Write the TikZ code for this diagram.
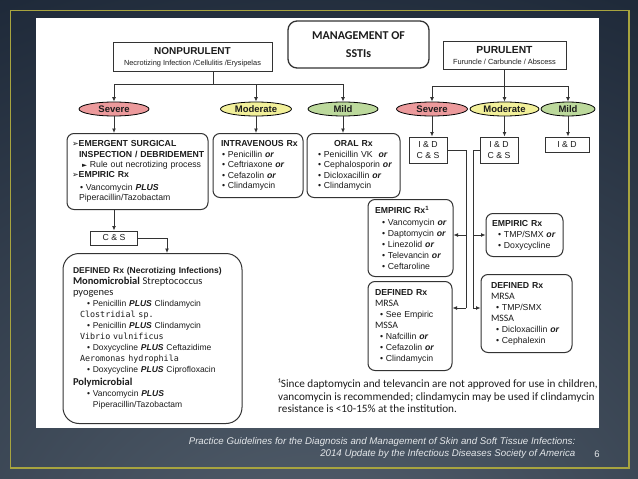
\documentclass[tikz,border=0pt]{standalone}
\usepackage{fontspec}
\setmainfont{Liberation Sans}
\newfontfamily\calib{Carlito}
\newfontfamily\monof{DejaVu Sans Mono}
\newfontfamily\djv{DejaVu Sans}
\usetikzlibrary{shapes.geometric,arrows.meta,calc}
\definecolor{bgdark}{HTML}{1B2636}
\definecolor{bglight}{HTML}{56626F}
\definecolor{olivec}{HTML}{A8A43F}
\definecolor{linec}{HTML}{333333}
\definecolor{txtc}{HTML}{1C1C1C}
\definecolor{sevc}{HTML}{EC9A9C}
\definecolor{modc}{HTML}{F2F09A}
\definecolor{mildc}{HTML}{BCD99C}
\definecolor{capc}{HTML}{E4E7EA}
\newcommand{\bOr}{\textbf{\textit{or}}}
\newcommand{\bPlus}{\textbf{\textit{PLUS}}}
\newcommand{\bul}{\textbullet\ }
\newcommand{\Lbox}[2][0pt]{\mbox{\hspace*{#1}#2}}
\begin{document}
\begin{tikzpicture}[x=1pt,y=-1pt,
  box/.style={draw=linec, line width=1pt, fill=white, inner sep=0pt, text=txtc},
  rbox/.style={box, rounded corners=7pt},
  bodytxt/.style={font=\fontsize{8.7}{10.4}\selectfont, align=left},
  ell/.style={ellipse, draw=black, line width=0.8pt, minimum height=14pt, inner sep=0pt, text=txtc, font=\bfseries\fontsize{9.5}{10}\selectfont},
  ln/.style={draw=linec, line width=1pt},
  arr/.style={ln, -{Latex[length=4.5pt,width=4pt]}},
]
\useasboundingbox (0,0) rectangle (638,479);
% background
\begin{scope}
\clip (0,0) rectangle (638,479);
\fill[bgdark] (0,0) rectangle (638,479);
\shade[inner color=bglight, outer color=bgdark] (-500,-100) rectangle (1138,1300);
\end{scope}
\draw[olivec, line width=1.6pt] (10.5,10.5) rectangle (629,468);
\fill[white] (36,18) rectangle (599,428);

% top boxes
\node[rbox, rounded corners=9pt, line width=1.3pt, minimum width=141pt, minimum height=47pt, align=center,
  font=\calib\bfseries\fontsize{12}{18}\selectfont] (title) at (358.5,44.5) {MANAGEMENT OF\\SSTIs};
\node[box, minimum width=159pt, minimum height=29pt, align=center, font=\fontsize{7.4}{11}\selectfont] (nonpur) at (192.5,57)
  {{\bfseries\fontsize{10}{11}\selectfont NONPURULENT}\\Necrotizing Infection /Cellulitis /Erysipelas};
\node[box, minimum width=123pt, minimum height=28pt, align=center, font=\fontsize{7.4}{11}\selectfont] (pur) at (504.5,55)
  {{\bfseries\fontsize{10.3}{11}\selectfont PURULENT}\\Furuncle / Carbuncle / Abscess};

% severity ellipses
\node[ell, fill=sevc, minimum width=70pt] (sevL) at (114,109) {Severe};
\node[ell, fill=modc, minimum width=71pt] (modL) at (256,109) {Moderate};
\node[ell, fill=mildc, minimum width=70pt] (mildL) at (343,109) {Mild};
\node[ell, fill=sevc, minimum width=71pt] (sevR) at (432,109) {Severe};
\node[ell, fill=modc, minimum width=69pt] (modR) at (504.5,109) {Moderate};
\node[ell, fill=mildc, minimum width=54pt] (mildR) at (568,109) {Mild};

% left boxes
\node[rbox, bodytxt, minimum width=141pt, minimum height=76pt, inner xsep=5pt, text width=131pt] (emer) at (137.5,171.5)
  {\Lbox{{\djv\fontsize{8}{10}\selectfont ➢}\textbf{EMERGENT SURGICAL}}\\
   \Lbox[7pt]{\textbf{INSPECTION / DEBRIDEMENT}}\\
   \Lbox[10pt]{{\djv\fontsize{6.5}{10}\selectfont ►} Rule out necrotizing process}\\
   \Lbox{{\djv\fontsize{8}{10}\selectfont ➢}\textbf{EMPIRIC Rx}}\\[2pt]
   \Lbox[8pt]{\bul Vancomycin \bPlus}\\
   \Lbox[7pt]{Piperacillin/Tazobactam}};
\node[rbox, bodytxt, minimum width=90pt, minimum height=64pt, inner xsep=6pt, text width=78pt] (iv) at (258,165.5)
  {\Lbox[2pt]{\textbf{INTRAVENOUS Rx}}\\
   \Lbox[3pt]{\bul Penicillin \bOr}\\
   \Lbox[3pt]{\bul Ceftriaxone \bOr}\\
   \Lbox[3pt]{\bul Cefazolin \bOr}\\
   \Lbox[3pt]{\bul Clindamycin}};
\node[rbox, bodytxt, minimum width=93pt, minimum height=64pt, inner xsep=6pt, text width=81pt] (oral) at (353.5,165.5)
  {\makebox[81pt]{\textbf{ORAL Rx}}\\
   \Lbox[5pt]{\bul Penicillin VK\ \ \bOr}\\
   \Lbox[5pt]{\bul Cephalosporin \bOr}\\
   \Lbox[5pt]{\bul Dicloxacillin \bOr}\\
   \Lbox[5pt]{\bul Clindamycin}};
\node[box, minimum width=47pt, minimum height=14pt, font=\fontsize{8.7}{10}\selectfont] (csL) at (114,238) {C \& S};
\node[rbox, rounded corners=16pt, bodytxt, font=\fontsize{8.5}{11}\selectfont, minimum width=179pt, minimum height=170pt, inner xsep=10pt, text width=159pt] (defN) at (152.5,338.5)
  {\Lbox{\textbf{DEFINED Rx (Necrotizing Infections)}}\\
   \Lbox{\calib\fontsize{10.5}{11}\selectfont\textbf{Monomicrobial} Streptococcus}\\
   \Lbox{\calib\fontsize{10.5}{11}\selectfont pyogenes}\\
   \Lbox[14pt]{\bul Penicillin \bPlus\ Clindamycin}\\
   \Lbox[7pt]{\monof\fontsize{8.4}{11}\selectfont Clostridial sp.}\\
   \Lbox[14pt]{\bul Penicillin \bPlus\ Clindamycin}\\
   \Lbox[7pt]{\monof\fontsize{8.4}{11}\selectfont Vibrio vulnificus}\\
   \Lbox[14pt]{\bul Doxycycline \bPlus\ Ceftazidime}\\
   \Lbox[7pt]{\monof\fontsize{8.4}{11}\selectfont Aeromonas hydrophila}\\
   \Lbox[14pt]{\bul Doxycycline \bPlus\ Ciprofloxacin}\\[1.5pt]
   \Lbox{\calib\bfseries\fontsize{10.5}{11}\selectfont Polymicrobial}\\
   \Lbox[14pt]{\bul Vancomycin \bPlus}\\
   \Lbox[20pt]{Piperacillin/Tazobactam}};

% right boxes
\node[box, minimum width=38pt, minimum height=26pt, align=center, font=\fontsize{8.7}{11}\selectfont] (id1) at (428,150) {I \& D\\C \& S};
\node[box, minimum width=38pt, minimum height=26pt, align=center, font=\fontsize{8.7}{11}\selectfont] (id2) at (499,150) {I \& D\\C \& S};
\node[box, minimum width=44pt, minimum height=15pt, font=\fontsize{8.7}{11}\selectfont] (id3) at (567,144.5) {I \& D};
\node[rbox, bodytxt, font=\fontsize{8.7}{11.2}\selectfont, minimum width=85pt, minimum height=77pt, inner xsep=6pt, text width=73pt] (empL) at (410.5,238)
  {\Lbox[1pt]{\textbf{EMPIRIC Rx\textsuperscript{1}}}\\
   \Lbox[8pt]{\bul Vancomycin \bOr}\\
   \Lbox[8pt]{\bul Daptomycin \bOr}\\
   \Lbox[8pt]{\bul Linezolid \bOr}\\
   \Lbox[8pt]{\bul Televancin \bOr}\\
   \Lbox[8pt]{\bul Ceftaroline}};
\node[rbox, bodytxt, font=\fontsize{8.7}{11}\selectfont, minimum width=84pt, minimum height=89pt, inner xsep=6pt, text width=72pt] (defL) at (410,326)
  {\Lbox[1pt]{\textbf{DEFINED Rx}}\\
   \Lbox[1pt]{\calib\fontsize{9.8}{11}\selectfont MRSA}\\
   \Lbox[6pt]{\bul See Empiric}\\
   \Lbox[1pt]{\calib\fontsize{9.8}{11}\selectfont MSSA}\\
   \Lbox[6pt]{\bul Nafcillin \bOr}\\
   \Lbox[6pt]{\bul Cefazolin \bOr}\\
   \Lbox[6pt]{\bul Clindamycin}};
\node[rbox, bodytxt, font=\fontsize{8.7}{11}\selectfont, minimum width=77pt, minimum height=43pt, inner xsep=6pt, text width=65pt] (empR) at (524.5,235)
  {\Lbox{\textbf{EMPIRIC Rx}}\\
   \Lbox[6pt]{\bul TMP/SMX \bOr}\\
   \Lbox[6pt]{\bul Doxycycline}};
\node[rbox, bodytxt, font=\fontsize{8.7}{11}\selectfont, minimum width=91pt, minimum height=78pt, inner xsep=10pt, text width=71pt] (defR) at (526.5,313.5)
  {\Lbox{\textbf{DEFINED Rx}}\\
   \Lbox{\calib\fontsize{9.8}{11}\selectfont MRSA}\\
   \Lbox[5pt]{\bul TMP/SMX}\\
   \Lbox{\calib\fontsize{9.8}{11}\selectfont MSSA}\\
   \Lbox[5pt]{\bul Dicloxacillin \bOr}\\
   \Lbox[5pt]{\bul Cephalexin}};

% connectors left
\coordinate (nj) at (213,84);
\draw[ln] (nj |- nonpur.south) -- (nj);
\draw[ln] (nj -| sevL) -- (nj -| mildL);
\draw[arr] (nj -| sevL) -- (sevL.north);
\draw[arr] (nj -| modL) -- (modL.north);
\draw[arr] (nj -| mildL) -- (mildL.north);
\draw[arr] (sevL.south) -- (sevL.south |- emer.north);
\draw[arr] (modL.south) -- (modL.south |- iv.north);
\draw[arr] (mildL.south) -- (mildL.south |- oral.north);
\draw[arr] (sevL.south |- emer.south) -- (sevL.south |- csL.north);
\coordinate (cj) at (167,238);
\draw[arr] (csL.east) -- (cj) -- (cj |- defN.north);

% connectors right
\coordinate (pj) at (504.5,86);
\draw[ln] (pj |- pur.south) -- (pj);
\draw[ln] (pj -| sevR) -- (pj -| mildR);
\draw[arr] (pj -| sevR) -- (sevR.north);
\draw[arr] (pj -| modR) -- (modR.north);
\draw[arr] (pj -| mildR) -- (mildR.north);
\draw[arr] (sevR.south) -- (sevR.south |- id1.north);
\draw[arr] (modR.south) -- (modR.south |- id2.north);
\draw[arr] (mildR.south) -- (mildR.south |- id3.north);
\coordinate (l1) at (466,308);
\coordinate (l2) at (473,308);
\coordinate (e1) at (466,235);
\coordinate (e2) at (473,235);
\draw[ln] (id1.east) -| (l1);
\draw[ln] (id2.west) -| (l2);
\draw[arr] (e1) -- (empL.east |- e1);
\draw[arr] (l1) -- (defL.east |- l1);
\draw[arr] (e2) -- (empR.west |- e2);
\draw[arr] (l2) -- (defR.west |- l2);

% footnote
\node[anchor=north west, inner sep=0pt, align=left, text=txtc, font=\calib\fontsize{11.2}{12.8}\selectfont] (foot) at (278,378.5)
  {¹Since daptomycin and televancin are not approved for use in children,\\
   vancomycin is recommended; clindamycin may be used if clindamycin\\
   resistance is <10-15\% at the institution.};

% caption
\node[anchor=north east, inner sep=0pt, align=right, text=capc, font=\itshape\fontsize{9.7}{12}\selectfont] (cap) at (575.5,437)
  {Practice Guidelines for the Diagnosis and Management of Skin and Soft Tissue Infections:\\
   2014 Update by the Infectious Diseases Society of America};
\node[anchor=base, inner sep=0pt, text=capc, font=\fontsize{9.5}{10}\selectfont] (pnum) at (597,457.5) {6};
\end{tikzpicture}
\end{document}
